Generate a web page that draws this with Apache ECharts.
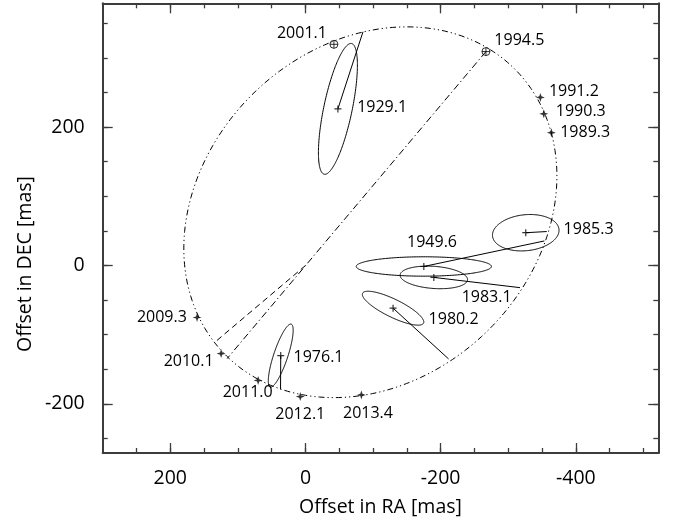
<!DOCTYPE html>
<html><head><meta charset="utf-8">
<script src="https://cdn.jsdelivr.net/npm/echarts@6/dist/echarts.min.js"></script>
<style>html,body{margin:0;padding:0;background:#fff}#c{width:681px;height:522px}</style>
</head><body><div id="c"></div>
<script>
// ---------------- data (mas) ----------------
// modern measurements
const modernEpochs = ['2001.1','1994.5','1991.2','1990.3','1989.3','2009.3','2010.1','2011.0','2012.1','2013.4'];
const modernRA  = [-42.1, -267.0, -347.5, -352.6, -363.8, 160.4, 124.8, 70.0, 7.7, -82.7];
const modernDEC = [319.7, 309.2, 243.0, 219.2, 192.0, -75.1, -127.3, -166.1, -189.5, -187.1];
const circledEpochs = ['2001.1','1994.5'];

// historical measurements with error ellipses and O-C residual lines
const histEpochs = ['1929.1','1949.6','1976.1','1980.2','1983.1','1985.3'];
const histRA  = [-48.0, -175.1, 36.6, -129.6, -189.9, -325.9];
const histDEC = [226.4, -1.4, -130.2, -61.7, -17.2, 47.4];
const histErrMajor = [96.6, 100.0, 48.0, 50.0, 50.0, 49.4];
const histErrMinor = [21.0, 14.0, 10.4, 13.0, 16.0, 26.0];
const histErrAngle = [102.1, 0.0, 108.9, 25.5, 4.0, -5.6];
const histPredRA  = [-85.1, -353.4, 36.9, -211.7, -317.4, -357.0];
const histPredDEC = [337.8, 35.5, -179.0, -135.0, -32.0, 49.1];

// apparent orbit (ellipse) and lines
const orbitCenter = [-96.0, 77.0];
const orbitSemiMajor = 297.7;
const orbitSemiMinor = 243.6;
const orbitAngle = -40.7;
const nodeLine = [[-267.0, 309.2], [115.9, -134.5]];
const periastronLine = [[0, 0], [133.0, -110.0]];

// ticks
const xMajorTicks = [200, 0, -200, -400];
const xMinorTicks = [250, 200, 150, 100, 50, 0, -50, -100, -150, -200, -250, -300, -350, -400, -450, -500];
const yMajorTicks = [200, 0, -200];
const yMinorTicks = [350, 300, 250, 200, 150, 100, 50, 0, -50, -100, -150, -200, -250];
const xRange = [-522, 300];
const yRange = [-271, 379];

// ---------------- styles / layout ----------------
const FONT = 'Open Sans';
const TXT = '#000';
const AX = '#3c3c3c';
const labelOffsets = {
  '2001.1': [-32, -10.5], '1994.5': [33.4, -11.3], '1991.2': [33.5, -5.6], '1990.3': [37, -2],
  '1989.3': [33.8, -0.6], '2009.3': [-35.2, 0.3], '2010.1': [-32.5, 8.3], '2011.0': [-10.5, 11.7],
  '2012.1': [0, 18.2], '2013.4': [6.6, 18.2],
  '1929.1': [44.2, -1.8], '1949.6': [8.2, -24], '1976.1': [37.8, 2.3], '1980.2': [60.5, 10.8],
  '1983.1': [52.8, 20], '1985.3': [62.8, -3.2]
};

const chart = echarts.init(document.getElementById('c'), null, {renderer: 'canvas'});

function ellipseRender(cx, cy, a, b, angDeg, api) {
  const th = angDeg * Math.PI / 180;
  const ux = Math.cos(th), uy = Math.sin(th);
  const vx = -Math.sin(th), vy = Math.cos(th);
  const pts = [];
  const N = 240;
  for (let i = 0; i <= N; i++) {
    const t = 2 * Math.PI * i / N;
    const px = cx + a * Math.cos(t) * ux + b * Math.sin(t) * vx;
    const py = cy + a * Math.cos(t) * uy + b * Math.sin(t) * vy;
    pts.push(api.coord([px, py]));
  }
  return pts;
}

function labelFor(name) {
  return {
    show: true, formatter: name, position: 'inside', align: 'center', verticalAlign: 'middle',
    offset: labelOffsets[name], fontFamily: FONT, fontSize: 16, color: TXT,
    textBorderWidth: 0, opacity: 1
  };
}

function xAxisDef(pos, ticks, len, showLine, showLabel) {
  return {
    type: 'value', position: pos, min: xRange[0], max: xRange[1], inverse: true,
    axisLine: {show: showLine, onZero: false, lineStyle: {color: AX, width: 2}},
    axisTick: {show: true, inside: true, length: len, customValues: ticks, lineStyle: {color: AX, width: 1.3}},
    axisLabel: {show: showLabel, customValues: xMajorTicks, fontFamily: FONT, fontSize: 19.5, color: TXT, margin: 15,
      formatter: v => String(v)},
    splitLine: {show: false},
    name: showLabel ? 'Offset in RA [mas]' : '', nameLocation: 'middle', nameGap: 44,
    nameTextStyle: {fontFamily: FONT, fontSize: 19.5, color: TXT}
  };
}
function yAxisDef(pos, ticks, len, showLine, showLabel) {
  return {
    type: 'value', position: pos, min: yRange[0], max: yRange[1],
    axisLine: {show: showLine, onZero: false, lineStyle: {color: AX, width: 2}},
    axisTick: {show: true, inside: true, length: len, customValues: ticks, lineStyle: {color: AX, width: 1.3}},
    axisLabel: {show: showLabel, customValues: yMajorTicks, fontFamily: FONT, fontSize: 19.5, color: TXT, margin: 18,
      formatter: v => String(v)},
    splitLine: {show: false}
  };
}

const modernStar = modernEpochs.map((e, i) => circledEpochs.includes(e) ? null : {
  value: [modernRA[i], modernDEC[i]], label: labelFor(e)
}).filter(Boolean);
const modernCirc = modernEpochs.map((e, i) => circledEpochs.includes(e) ? {
  value: [modernRA[i], modernDEC[i]], label: labelFor(e)
} : null).filter(Boolean);
const histPts = histEpochs.map((e, i) => ({value: [histRA[i], histDEC[i]], label: labelFor(e)}));

const option = {
  animation: false,
  backgroundColor: '#fff',
  grid: {left: 102.7, right: 22.7, top: 3.3, bottom: 66.3, containLabel: false},
  graphic: [{
    type: 'text', x: 25, y: 264, rotation: Math.PI / 2, silent: true,
    style: {text: 'Offset in DEC [mas]', fontFamily: FONT, fontSize: 19.5, fill: TXT,
      align: 'center', verticalAlign: 'middle'}
  }],
  xAxis: [
    xAxisDef('bottom', xMinorTicks, 5, true, true),
    xAxisDef('bottom', xMajorTicks, 10, false, false),
    xAxisDef('top', xMinorTicks, 5, true, false),
    xAxisDef('top', xMajorTicks, 10, false, false)
  ],
  yAxis: [
    yAxisDef('left', yMinorTicks, 5, true, true),
    yAxisDef('left', yMajorTicks, 10, false, false),
    yAxisDef('right', yMinorTicks, 5, true, false),
    yAxisDef('right', yMajorTicks, 10, false, false)
  ],
  series: [
    { // apparent orbit
      type: 'custom', xAxisIndex: 0, yAxisIndex: 0, z: 1, silent: true,
      data: [[orbitCenter[0], orbitCenter[1]]],
      renderItem: (params, api) => ({
        type: 'polyline',
        shape: {points: ellipseRender(api.value(0), api.value(1), orbitSemiMajor, orbitSemiMinor, orbitAngle, api)},
        style: {fill: 'none', stroke: '#000', lineWidth: 1, lineDash: [6, 3, 1.2, 3, 1.2, 3]}
      })
    },
    { // line of nodes (dash-dot)
      type: 'custom', xAxisIndex: 0, yAxisIndex: 0, z: 1, silent: true,
      data: [[nodeLine[0][0], nodeLine[0][1], nodeLine[1][0], nodeLine[1][1]]],
      renderItem: (params, api) => {
        const p1 = api.coord([api.value(0), api.value(1)]);
        const p2 = api.coord([api.value(2), api.value(3)]);
        return {type: 'line', shape: {x1: p1[0], y1: p1[1], x2: p2[0], y2: p2[1]},
          style: {stroke: '#000', lineWidth: 1, lineDash: [7, 3, 1.2, 3]}};
      }
    },
    { // primary to periastron (dashed)
      type: 'custom', xAxisIndex: 0, yAxisIndex: 0, z: 1, silent: true,
      data: [[periastronLine[0][0], periastronLine[0][1], periastronLine[1][0], periastronLine[1][1]]],
      renderItem: (params, api) => {
        const p1 = api.coord([api.value(0), api.value(1)]);
        const p2 = api.coord([api.value(2), api.value(3)]);
        return {type: 'line', shape: {x1: p1[0], y1: p1[1], x2: p2[0], y2: p2[1]},
          style: {stroke: '#000', lineWidth: 1, lineDash: [6, 4]}};
      }
    },
    { // error ellipses
      type: 'custom', xAxisIndex: 0, yAxisIndex: 0, z: 2, silent: true,
      data: histEpochs.map((e, i) => [histRA[i], histDEC[i], histErrMajor[i], histErrMinor[i], histErrAngle[i]]),
      renderItem: (params, api) => ({
        type: 'polyline',
        shape: {points: ellipseRender(api.value(0), api.value(1), api.value(2), api.value(3), api.value(4), api)},
        style: {fill: 'none', stroke: '#000', lineWidth: 1}
      })
    },
    { // O-C residual lines
      type: 'custom', xAxisIndex: 0, yAxisIndex: 0, z: 2, silent: true,
      data: histEpochs.map((e, i) => [histRA[i], histDEC[i], histPredRA[i], histPredDEC[i]]),
      renderItem: (params, api) => {
        const p1 = api.coord([api.value(0), api.value(1)]);
        const p2 = api.coord([api.value(2), api.value(3)]);
        return {type: 'line', shape: {x1: p1[0], y1: p1[1], x2: p2[0], y2: p2[1]},
          style: {stroke: '#000', lineWidth: 1}};
      }
    },
    { // historical points
      type: 'scatter', xAxisIndex: 0, yAxisIndex: 0, z: 5, silent: true,
      symbol: 'path://M0,-5L0,5M-5,0L5,0', symbolSize: 7,
      itemStyle: {color: 'none', borderColor: '#000', borderWidth: 1.2},
      data: histPts
    },
    { // modern points
      type: 'scatter', xAxisIndex: 0, yAxisIndex: 0, z: 5, silent: true,
      symbol: 'path://M0,-5L1.2,-1.2L5,0L1.2,1.2L0,5L-1.2,1.2L-5,0L-1.2,-1.2Z', symbolSize: 9,
      itemStyle: {color: '#000'},
      data: modernStar
    },
    { // circled points
      type: 'scatter', xAxisIndex: 0, yAxisIndex: 0, z: 5, silent: true,
      symbol: 'path://M-4,0A4,4,0,1,0,4,0A4,4,0,1,0,-4,0ZM-4,0L4,0M0,-4L0,4', symbolSize: 8,
      itemStyle: {color: 'none', borderColor: '#000', borderWidth: 1},
      data: modernCirc
    }
  ]
};
chart.setOption(option);
</script></body></html>
